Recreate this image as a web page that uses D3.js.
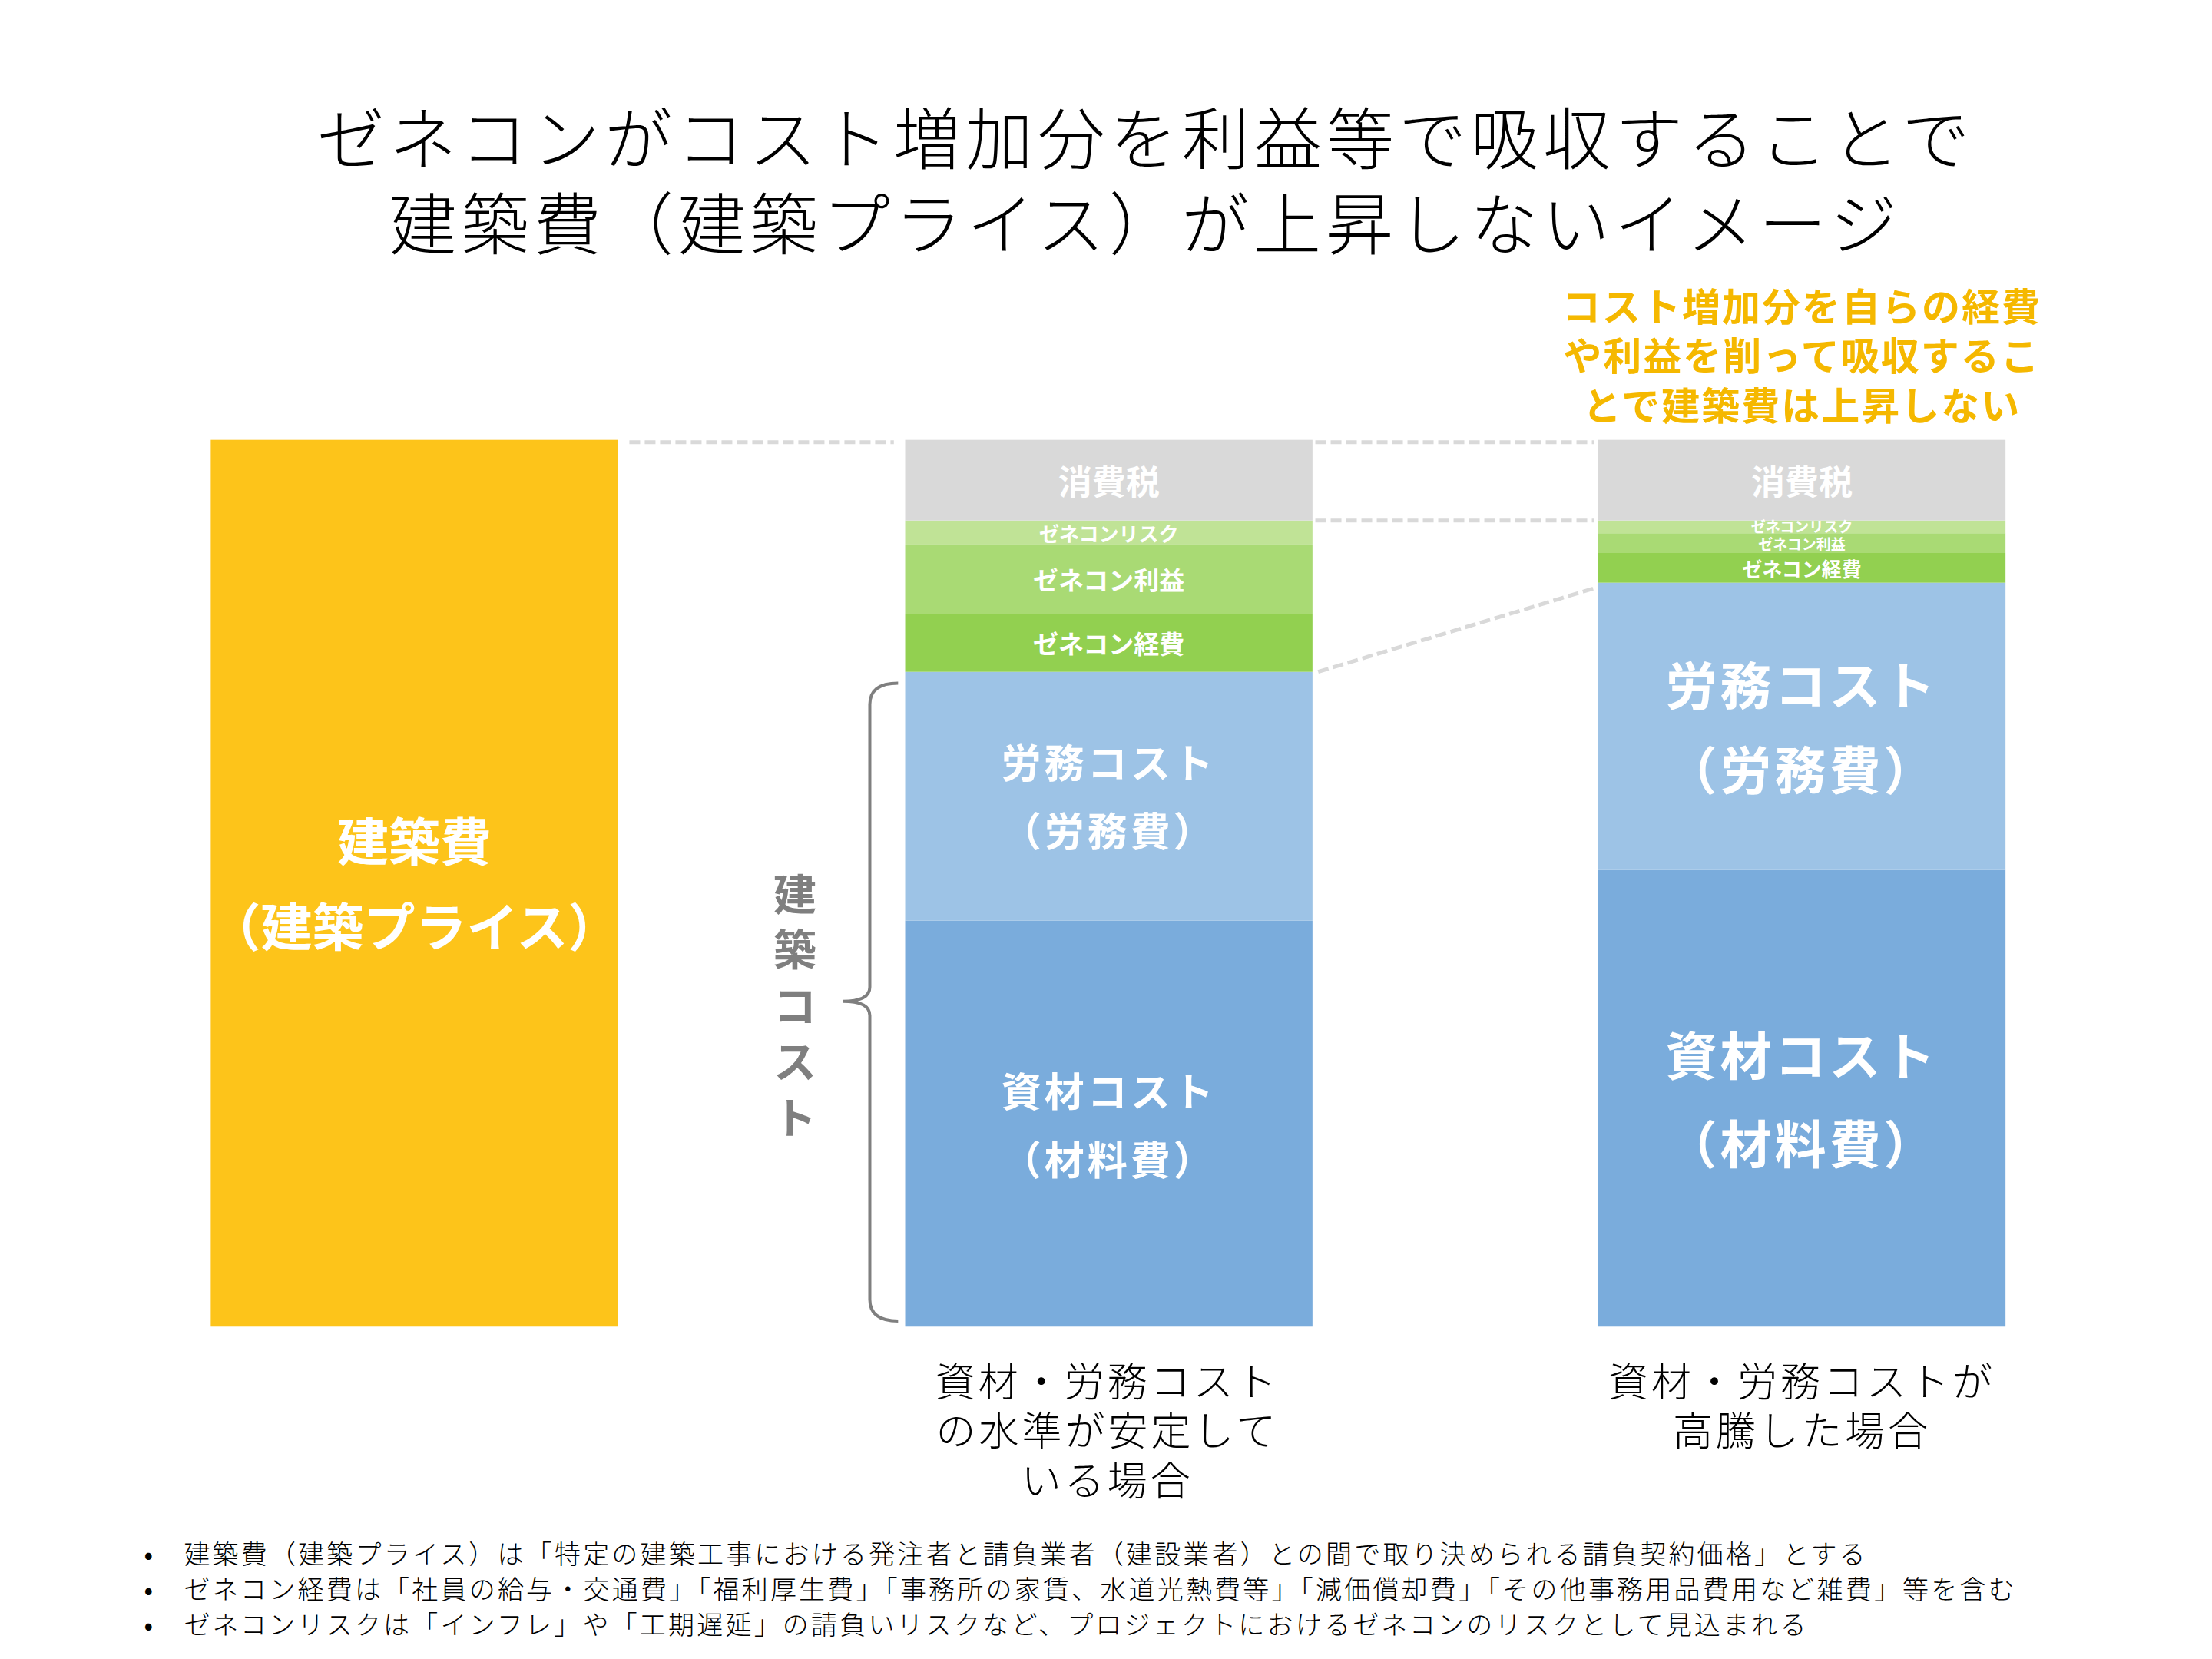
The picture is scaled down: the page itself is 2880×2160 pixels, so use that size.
<!DOCTYPE html><html><head><meta charset="utf-8">
<script src="https://cdn.jsdelivr.net/npm/d3@7"></script>
<style>body{margin:0;background:#fff}text{font-family:"Noto Sans CJK JP",sans-serif}</style></head><body>
<svg id="c" width="2880" height="2160"></svg>
<script>
const segments=["資材コスト","労務コスト","ゼネコン経費","ゼネコン利益","ゼネコンリスク","消費税"];
const stableValues=[287,176,41,49,17,57];
const surgeValues=[323,203,21,14,9,57];
const priceValue=627;
const colors=["#7aacdc","#9dc3e6","#92d050","#a9da74","#c0e396","#d9d9d9"];
const s=2880/1564;
const svg=d3.select("#c");
const y=d3.scaleLinear().domain([0,627]).range([938*s,311*s]);
const bx={price:149*s,stable:640*s,surge:1130*s}, bw=288*s;
const W="#fff";
function t(txt,cx,cy,size,opt={}){svg.append("text").attr("x",cx).attr("y",cy).attr("text-anchor",opt.anchor||"middle").attr("dominant-baseline","central").attr("font-size",size).attr("font-weight",opt.bold?"bold":(opt.w||"normal")).attr("letter-spacing",opt.ls||0).attr("fill",opt.fill||W).text(txt);}
svg.append("rect").attr("x",bx.price).attr("y",y(priceValue)).attr("width",bw).attr("height",y(0)-y(priceValue)).attr("fill","#fdc41a");
t("建築費",bx.price+bw/2,593*s,67,{bold:1});t("（建築プライス）",bx.price+bw/2,653*s,67,{bold:1});
function stack(vals,key){let acc=0;const out=[];vals.forEach((v,i)=>{out.push({i,y0:acc,y1:acc+v});acc+=v;});
 svg.selectAll(null).data(out).enter().append("rect").attr("x",bx[key]).attr("width",bw).attr("y",d=>y(d.y1)).attr("height",d=>y(d.y0)-y(d.y1)).attr("fill",d=>colors[d.i]);return out;}
const a=stack(stableValues,"stable"),b=stack(surgeValues,"surge");
const mid=d=>(y(d.y0)+y(d.y1))/2, cA=bx.stable+bw/2,cB=bx.surge+bw/2;
const L={bold:1,ls:4};
t("資材コスト",cA,mid(a[0])-24*s,52,L);t("（材料費）",cA,mid(a[0])+24*s,52,L);
t("労務コスト",cA,mid(a[1])-25*s,52,L);t("（労務費）",cA,mid(a[1])+23*s,52,L);
t("ゼネコン経費",cA,mid(a[2]),33,{bold:1});t("ゼネコン利益",cA,mid(a[3]),33,{bold:1});t("ゼネコンリスク",cA,mid(a[4]),26,{bold:1});t("消費税",cA,mid(a[5]),44,{bold:1});
t("資材コスト",cB,mid(b[0])-32*s,67,L);t("（材料費）",cB,mid(b[0])+30*s,67,L);
t("労務コスト",cB,mid(b[1])-31*s,67,L);t("（労務費）",cB,mid(b[1])+29*s,67,L);
t("ゼネコン経費",cB,mid(b[2]),26,{bold:1});t("ゼネコン利益",cB,mid(b[3]),19,{bold:1});t("ゼネコンリスク",cB,mid(b[4])-1*s,19,{bold:1});t("消費税",cB,mid(b[5]),44,{bold:1});
const dl=(x1,y1,x2,y2)=>svg.append("line").attr("x1",x1).attr("y1",y1).attr("x2",x2).attr("y2",y2).attr("stroke","#d9d9d9").attr("stroke-width",5).attr("stroke-dasharray","14,6");
dl(445*s,y(627)+3,632*s,y(627)+3);
dl(930*s,y(627)+3,1127*s,y(627)+3);
dl(930*s,y(570),1127*s,y(570));
dl(932*s,y(a[2].y0),1127*s,y(b[2].y0)+4*s);
const bt=483*s,bb=934*s,bm=708*s,bxr=635*s,bxl=615*s;
svg.append("path").attr("d",`M${bxr},${bt} Q${bxl},${bt} ${bxl},${bt+15*s} L${bxl},${bm-10*s} Q${bxl},${bm} ${596*s},${bm} Q${bxl},${bm} ${bxl},${bm+10*s} L${bxl},${bb-15*s} Q${bxl},${bb} ${bxr},${bb}`).attr("fill","none").attr("stroke","#7f7f7f").attr("stroke-width",4);
["建","築","コ","ス","ト"].forEach((c,i)=>t(c,562*s,(630+i*39.5)*s,56,{bold:1,fill:"#7f7f7f"}));
t("ゼネコンがコスト増加分を利益等で吸収することで",810*s,95*s,88,{fill:"#000",ls:6,w:300});
t("建築費（建築プライス）が上昇しないイメージ",810*s,155*s,88,{fill:"#000",ls:6,w:300});
["コスト増加分を自らの経費","や利益を削って吸収するこ","とで建築費は上昇しない"].forEach((l,i)=>t(l,1274*s,(215+i*35)*s,50,{bold:1,fill:"#f5b800",ls:2}));
["資材・労務コスト","の水準が安定して","いる場合"].forEach((l,i)=>t(l,783*s,(975+i*35)*s,52,{fill:"#000",ls:4,w:300}));
["資材・労務コストが","高騰した場合"].forEach((l,i)=>t(l,1274*s,(975+i*35)*s,52,{fill:"#000",ls:4,w:300}));
["建築費（建築プライス）は「特定の建築工事における発注者と請負業者（建設業者）との間で取り決められる請負契約価格」とする",
 "ゼネコン経費は「社員の給与・交通費」「福利厚生費」「事務所の家賃、水道光熱費等」「減価償却費」「その他事務用品費用など雑費」等を含む",
 "ゼネコンリスクは「インフレ」や「工期遅延」の請負いリスクなど、プロジェクトにおけるゼネコンのリスクとして見込まれる"].forEach((l,i)=>{
 t("•",105*s,(1098+i*25)*s,34,{fill:"#000"});t(l,130*s,(1098+i*25)*s,34,{fill:"#000",anchor:"start",ls:3.2,w:300});});
</script></body></html>
